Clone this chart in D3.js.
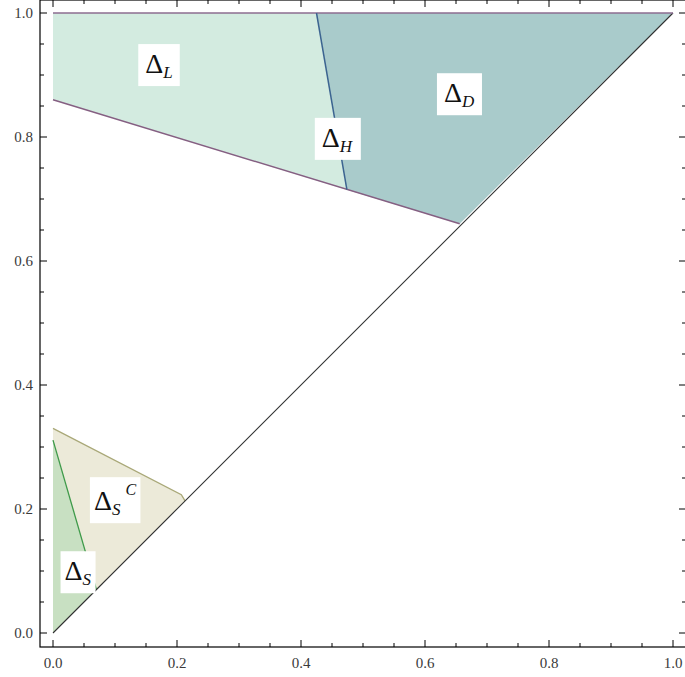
<!DOCTYPE html>
<html>
<head>
<meta charset="utf-8">
<script src="https://cdn.jsdelivr.net/npm/d3@7"></script>
<style>
  html, body { margin: 0; padding: 0; background: #fff; }
  svg { display: block; }
  text { font-family: "Liberation Serif", "Times New Roman", "DejaVu Serif", serif; }
</style>
</head>
<body>
<svg id="chart" width="685" height="677"></svg>
<script>
// Region vertices in (x, y) data units
const regionL = [[0, 1], [0.425, 1], [0.474, 0.715], [0, 0.86]];
const regionD = [[0.425, 1], [1, 1], [0.656, 0.66], [0.474, 0.715]];
const regionSC = [[0, 0.33], [0.207, 0.223], [0.213, 0.213], [0, 0]];
const regionS = [[0, 0.311], [0.07, 0.07], [0, 0]];

// Boundary curves
const topEdge = [[0, 1], [1, 1]];
const lowerEdge = [[0, 0.86], [0.656, 0.66]];
const hEdge = [[0.425, 1], [0.474, 0.715]];
const diagonal = [[0, 0], [1, 1]];
const scEdge = [[0, 0.33], [0.207, 0.223], [0.213, 0.213]];
const sEdge = [[0, 0.311], [0.07, 0.07]];

// Region labels: subscript, superscript, anchor point
const labelSubs = ["L", "D", "H", "S", "S"];
const labelSups = ["", "", "", "C", ""];
const labelAt = [[0.171, 0.916], [0.655, 0.869], [0.458, 0.797], [0.1, 0.211], [0.04, 0.098]];

const majorTicks = [0, 0.2, 0.4, 0.6, 0.8, 1.0];
const minorTicks = d3.range(0, 1.0001, 0.05);

const svg = d3.select("#chart");
const x = d3.scaleLinear().domain([0, 1]).range([53, 673]);
const y = d3.scaleLinear().domain([0, 1]).range([633, 13]);
const line = d3.line().x(d => x(d[0])).y(d => y(d[1]));

// Filled regions
svg.append("path").attr("d", line(regionL) + "Z").attr("fill", "#d3ebe0");
svg.append("path").attr("d", line(regionD) + "Z").attr("fill", "#a9cbcb");
svg.append("path").attr("d", line(regionSC) + "Z").attr("fill", "#ecead9");
svg.append("path").attr("d", line(regionS) + "Z").attr("fill", "#c8e0c2");

// Boundaries
const strokeLine = (pts, color, w) =>
  svg.append("path").attr("d", line(pts)).attr("fill", "none")
    .attr("stroke", color).attr("stroke-width", w);
strokeLine(scEdge, "#a9a878", 1.3);
strokeLine(sEdge, "#3f9a4a", 1.3);
strokeLine(diagonal, "#2f3030", 1.1);
strokeLine(topEdge, "#8c6c90", 1.6);
strokeLine(lowerEdge, "#855f82", 1.5);
strokeLine(hEdge, "#3c6490", 1.5);

// Frame with inward ticks
const fx0 = 40, fx1 = 686, fy0 = 0, fy1 = 647;
svg.append("rect").attr("x", fx0).attr("y", fy0).attr("width", fx1 - fx0).attr("height", fy1 - fy0)
  .attr("fill", "none").attr("stroke", "#000").attr("stroke-width", 1.2);

const ticks = svg.append("g").attr("stroke", "#000").attr("stroke-width", 1);
minorTicks.forEach(t => {
  const major = majorTicks.some(m => Math.abs(m - t) < 1e-6);
  const len = major ? 7 : 4;
  ticks.append("line").attr("x1", x(t)).attr("x2", x(t)).attr("y1", fy1).attr("y2", fy1 - len);
  ticks.append("line").attr("x1", x(t)).attr("x2", x(t)).attr("y1", fy0).attr("y2", fy0 + len);
  ticks.append("line").attr("y1", y(t)).attr("y2", y(t)).attr("x1", fx0).attr("x2", fx0 + len);
  ticks.append("line").attr("y1", y(t)).attr("y2", y(t)).attr("x1", fx1).attr("x2", fx1 - len);
});

svg.append("g").selectAll("text").data(majorTicks).join("text")
  .attr("x", d => x(d)).attr("y", 668).attr("text-anchor", "middle")
  .attr("font-size", 15).attr("fill", "#3a3a3a")
  .text(d => d.toFixed(1));
svg.append("g").selectAll("text").data(majorTicks).join("text")
  .attr("x", 33).attr("y", d => y(d) + 5).attr("text-anchor", "end")
  .attr("font-size", 15).attr("fill", "#3a3a3a")
  .text(d => d.toFixed(1));

// Labels on white boxes
labelAt.forEach((p, i) => {
  const g = svg.append("g");
  const t = g.append("text")
    .attr("x", x(p[0])).attr("y", y(p[1]) + 8)
    .attr("text-anchor", "middle")
    .attr("fill", "#111");
  t.append("tspan").attr("font-size", 28).text("Δ");
  t.append("tspan").attr("font-size", 17).attr("font-style", "italic")
    .attr("dy", 5).text(labelSubs[i]);
  if (labelSups[i]) {
    t.append("tspan").attr("font-size", 16).attr("font-style", "italic")
      .attr("dx", 5).attr("dy", -20).text(labelSups[i]);
  }
  const b = t.node().getBBox();
  const padX = labelSups[i] || i === 4 ? 4 : 7;
  g.insert("rect", "text")
    .attr("x", b.x - padX).attr("y", b.y - 4)
    .attr("width", b.width + 2 * padX).attr("height", b.height + 8)
    .attr("fill", "#fff");
});
</script>
</body>
</html>
